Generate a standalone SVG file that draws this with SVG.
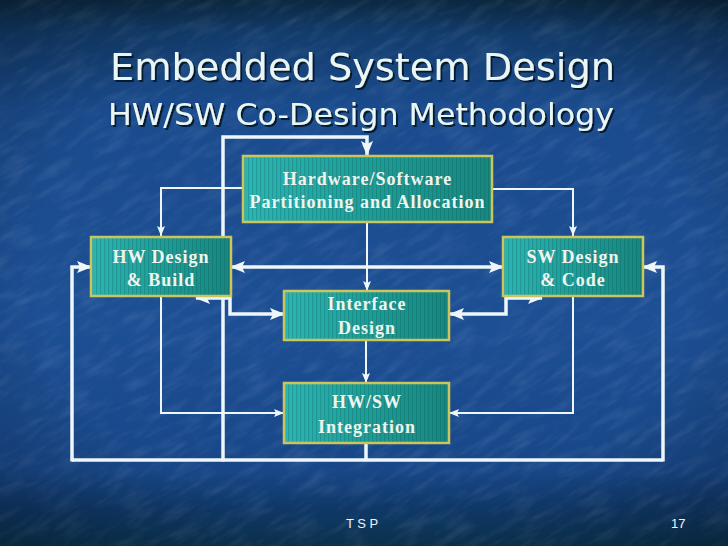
<svg xmlns="http://www.w3.org/2000/svg" width="728" height="546" viewBox="0 0 728 546">
<style>
.title{font-family:"DejaVu Sans","Liberation Sans",sans-serif;fill:#eaf6f6;filter:url(#tshadow)}
.box{fill:url(#boxg);stroke:#cbc55c;stroke-width:2.5}
.stripe{fill:url(#stripes)}
.lbl{font-family:"Liberation Serif","Times New Roman",serif;font-weight:bold;font-size:18px;letter-spacing:1px;fill:#eef5ee;text-anchor:middle}
.thin{fill:none;stroke:#eef6fa;stroke-width:2}
.thick{fill:none;stroke:#eef6fa;stroke-width:3.5}
.foot{font-family:"Liberation Sans",Arial,sans-serif;font-size:13px;fill:#f0f4f8}
</style>
<defs>
<linearGradient id="bg" x1="0" y1="0" x2="0" y2="1">
<stop offset="0" stop-color="#0c2a44"/>
<stop offset="0.06" stop-color="#123c6c"/>
<stop offset="0.2" stop-color="#1a4b8d"/>
<stop offset="0.6" stop-color="#1d4f94"/>
<stop offset="0.86" stop-color="#184788"/>
<stop offset="0.93" stop-color="#0f3868"/>
<stop offset="1" stop-color="#0b3350"/>
</linearGradient>
<radialGradient id="vig" cx="0.5" cy="0.5" r="0.75">
<stop offset="0.6" stop-color="#000" stop-opacity="0"/>
<stop offset="1" stop-color="#000" stop-opacity="0.3"/>
</radialGradient>
<filter id="tex" x="0" y="0" width="100%" height="100%">
<feTurbulence type="fractalNoise" baseFrequency="0.03 0.12" numOctaves="3" seed="4"/>
<feColorMatrix type="matrix" values="0 0 0 0 0.8  0 0 0 0 0.88  0 0 0 0 1  1.6 0 0 0 -0.7"/>
</filter>
<filter id="tshadow" x="-5%" y="-20%" width="110%" height="150%">
<feDropShadow dx="2" dy="2" stdDeviation="0.6" flood-color="#030c1c" flood-opacity="0.8"/>
</filter>
<linearGradient id="boxg" x1="0" y1="0" x2="1" y2="0">
<stop offset="0" stop-color="#2db6b4"/>
<stop offset="0.5" stop-color="#1f9d97"/>
<stop offset="1" stop-color="#17877f"/>
</linearGradient>
<pattern id="stripes" patternUnits="userSpaceOnUse" width="4" height="10">
<rect x="0" y="0" width="1.2" height="10" fill="#0a4a48" opacity="0.22"/>
</pattern>
<marker id="ah" markerUnits="userSpaceOnUse" markerWidth="15" markerHeight="12" refX="14" refY="6" orient="auto-start-reverse" viewBox="0 0 15 12">
<path d="M0,0 L15,6 L0,12 L3,6 z" fill="#eef6fa"/>
</marker>
<marker id="at" markerUnits="userSpaceOnUse" markerWidth="10" markerHeight="8" refX="10" refY="4" orient="auto-start-reverse" viewBox="0 0 10 8">
<path d="M0,0 L10,4 L0,8 L2,4 z" fill="#eef6fa"/>
</marker>
</defs>

<rect width="728" height="546" fill="url(#bg)"/>
<g transform="rotate(-30 364 273)" opacity="0.13">
<rect x="-200" y="-200" width="1130" height="950" filter="url(#tex)"/>
</g>
<rect width="728" height="546" fill="url(#vig)"/>

<g id="title">
<text class="title" x="110" y="80" font-size="38" textLength="505" lengthAdjust="spacingAndGlyphs">Embedded System Design</text>
<text class="title" x="108" y="125" font-size="30" textLength="506" lengthAdjust="spacingAndGlyphs">HW/SW Co-Design Methodology</text>
</g>

<g id="connectors">
<path class="thin" d="M243,188 H161 V236" marker-end="url(#at)"/>
<path class="thin" d="M492,189 H573 V236" marker-end="url(#at)"/>
<path class="thin" d="M367,222 V291" marker-end="url(#at)"/>
<path class="thin" d="M161,296 V413 H284" marker-end="url(#at)"/>
<path class="thin" d="M573,296 V413 H449" marker-end="url(#at)"/>
<path class="thin" d="M366,340 V383" marker-end="url(#at)"/>
<path class="thick" d="M231,267 H503" marker-start="url(#ah)" marker-end="url(#ah)"/>
<path class="thick" d="M196,298 H230 V314 H284" marker-start="url(#ah)" marker-end="url(#ah)"/>
<path class="thick" d="M542,298 H506 V314 H450" marker-start="url(#ah)" marker-end="url(#ah)"/>
<path class="thick" d="M366,443 V460"/>
<path class="thick" d="M72,460 H663"/>
<path class="thick" d="M72,461.5 V267 H91" marker-end="url(#ah)"/>
<path class="thick" d="M663,461.5 V267 H643" marker-end="url(#ah)"/>
<path class="thick" d="M223,461.5 V137 H367 V155" marker-end="url(#ah)"/>
</g>

<g id="partition">
<rect class="box" x="243" y="156" width="249" height="66"/>
<rect class="stripe" x="244.5" y="157.5" width="246" height="63"/>
<text class="lbl" x="367.5" y="185">Hardware/Software</text>
<text class="lbl" x="367.5" y="208">Partitioning and Allocation</text>
</g>
<g id="hw-design">
<rect class="box" x="91" y="237" width="140" height="59"/>
<rect class="stripe" x="92.5" y="238.5" width="137" height="56"/>
<text class="lbl" x="161" y="263">HW Design</text>
<text class="lbl" x="161" y="286">&amp; Build</text>
</g>
<g id="sw-design">
<rect class="box" x="503" y="237" width="140" height="59"/>
<rect class="stripe" x="504.5" y="238.5" width="137" height="56"/>
<text class="lbl" x="573" y="263">SW Design</text>
<text class="lbl" x="573" y="286">&amp; Code</text>
</g>
<g id="interface">
<rect class="box" x="284" y="291" width="165" height="49"/>
<rect class="stripe" x="285.5" y="292.5" width="162" height="46"/>
<text class="lbl" x="367" y="310">Interface</text>
<text class="lbl" x="367" y="334">Design</text>
</g>
<g id="integration">
<rect class="box" x="284" y="383" width="165" height="60"/>
<rect class="stripe" x="285.5" y="384.5" width="162" height="57"/>
<text class="lbl" x="367" y="408">HW/SW</text>
<text class="lbl" x="367" y="433">Integration</text>
</g>

<g id="footer">
<text class="foot" x="346" y="528">T S P</text>
<text class="foot" x="671" y="528">17</text>
</g>
</svg>
